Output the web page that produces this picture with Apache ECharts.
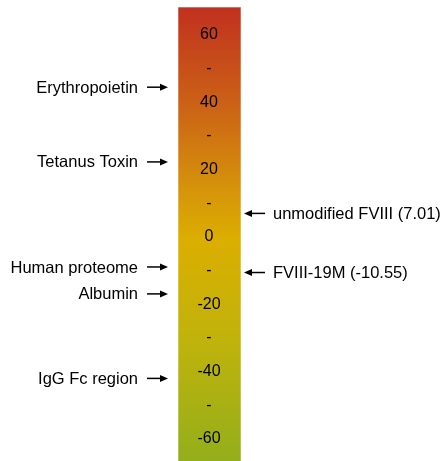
<!DOCTYPE html>
<html>
<head>
<meta charset="utf-8">
<script src="https://cdn.jsdelivr.net/npm/echarts@6/dist/echarts.min.js"></script>
<style>
html,body{margin:0;padding:0;background:#fff;}
#chart{width:448px;height:461px;}
</style>
</head>
<body>
<div id="chart"></div>
<script>
// Scale extent of the colour bar
const barRange = [-70, 68.3];
// Axis ticks
const tickValues = [60, 50, 40, 30, 20, 10, 0, -10, -20, -30, -40, -50, -60];
// Left-side annotations
const leftNames = ['Erythropoietin', 'Tetanus Toxin', 'Human proteome', 'Albumin', 'IgG Fc region'];
const leftValues = [44.5, 22.3, -8.9, -16.9, -42];
// Right-side annotations
const rightNames = ['unmodified FVIII (7.01)', 'FVIII-19M (-10.55)'];
const rightValues = [7.01, -10.55];

const chart = echarts.init(document.getElementById('chart'), null, {renderer: 'canvas'});
const FONT = 'Liberation Sans, Arial, sans-serif';

const gradient = new echarts.graphic.LinearGradient(0, 0, 0, 1, [
  {offset: 0, color: '#c1301f'},
  {offset: 0.22, color: '#cc6416'},
  {offset: 0.40, color: '#d6960a'},
  {offset: 0.50, color: '#dbae00'},
  {offset: 0.72, color: '#bfb30c'},
  {offset: 1, color: '#8fae1c'}
]);

const annData = [];
leftNames.forEach((n, i) => annData.push({value: [0, leftValues[i]], name: n, side: 'left'}));
rightNames.forEach((n, i) => annData.push({value: [1, rightValues[i]], name: n, side: 'right'}));

function arrow(x1, x2, y, dir) {
  const head = 8, hw = 3.5;
  return [
    {type: 'line', shape: {x1: x1, y1: y, x2: x2 - dir * head * 0.6, y2: y}, style: {stroke: '#000', lineWidth: 1.5}},
    {type: 'polygon', shape: {points: [[x2, y], [x2 - dir * head, y - hw], [x2 - dir * head, y + hw]]}, style: {fill: '#000'}}
  ];
}

const option = {
  animation: false,
  backgroundColor: '#fff',
  grid: {left: 178, width: 63, top: 35, height: 404, containLabel: false},
  xAxis: {type: 'value', min: 0, max: 1, show: false},
  yAxis: {
    type: 'value', min: -60, max: 60, interval: 10,
    axisLine: {show: false}, axisTick: {show: false}, splitLine: {show: false},
    axisLabel: {
      inside: true, margin: 31, align: 'center', verticalAlign: 'middle', padding: [4, 0, 0, 0],
      showMinLabel: true, showMaxLabel: true,
      fontFamily: FONT, fontSize: 16, color: '#000',
      formatter: v => (tickValues.indexOf(v) < 0 ? '' : (v % 20 === 0 ? String(v) : '-'))
    },
    z: 10
  },
  series: [
    {
      type: 'custom', z: 1, clip: false,
      data: [[0, barRange[0], 1, barRange[1]]],
      renderItem: (params, api) => {
        const p1 = api.coord([api.value(0), api.value(3)]);
        const p2 = api.coord([api.value(2), api.value(1)]);
        return {
          type: 'rect',
          shape: {x: p1[0], y: p1[1], width: p2[0] - p1[0], height: p2[1] - p1[1]},
          style: {fill: gradient, stroke: 'rgba(255,255,255,0.55)', lineWidth: 1}
        };
      }
    },
    {
      type: 'custom', z: 5, clip: false,
      data: annData,
      renderItem: (params, api) => {
        const d = annData[params.dataIndex];
        const p = api.coord([api.value(0), api.value(1)]);
        const y = p[1];
        let children;
        if (d.side === 'left') {
          children = arrow(p[0] - 31, p[0] - 10, y, 1).concat([{
            type: 'text',
            style: {text: d.name, x: p[0] - 40, y: y + 1, align: 'right', verticalAlign: 'middle', font: '16.5px ' + FONT, fill: '#000'}
          }]);
        } else {
          children = arrow(p[0] + 24, p[0] + 3, y, -1).concat([{
            type: 'text',
            style: {text: d.name, x: p[0] + 32, y: y + 1, align: 'left', verticalAlign: 'middle', font: '16.5px ' + FONT, fill: '#000'}
          }]);
        }
        return {type: 'group', children: children};
      }
    }
  ]
};
chart.setOption(option);
</script>
</body>
</html>
